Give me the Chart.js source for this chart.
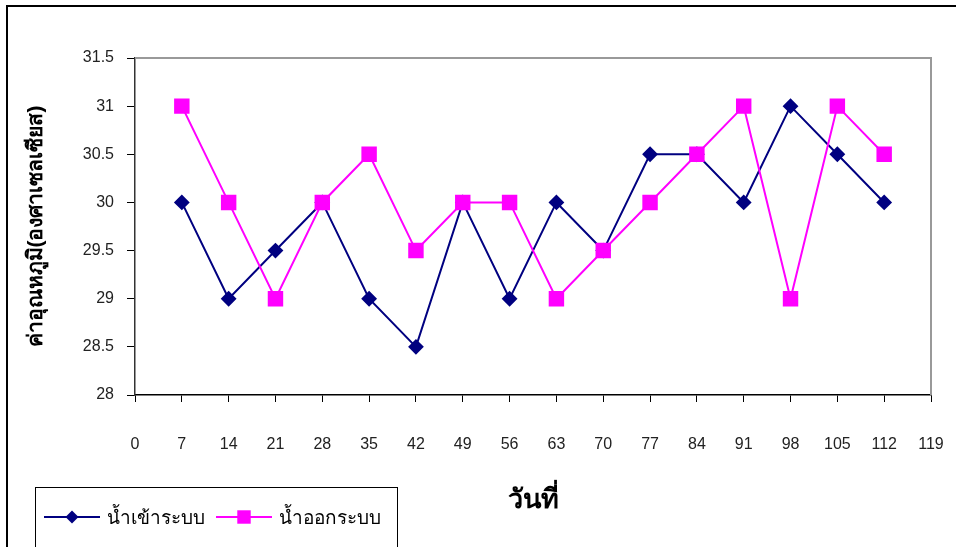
<!DOCTYPE html>
<html>
<head>
<meta charset="utf-8">
<script src="https://cdn.jsdelivr.net/npm/chart.js@4"></script>
<style>
  html, body { margin: 0; padding: 0; background: #fff; }
  #wrap { width: 956px; height: 547px; position: relative; }
</style>
</head>
<body>
<div id="wrap"><canvas id="tempChart"></canvas></div>
<script>
// days of sampling and temperatures (°C)
const days = [7, 14, 21, 28, 35, 42, 49, 56, 63, 70, 77, 84, 91, 98, 105, 112];
const waterIn = [30, 29, 29.5, 30, 29, 28.5, 30, 29, 30, 29.5, 30.5, 30.5, 30, 31, 30.5, 30];
const waterOut = [31, 30, 29, 30, 30.5, 29.5, 30, 30, 29, 29.5, 30, 30.5, 31, 29, 31, 30.5];
const seriesNames = ['น้ำเข้าระบบ', 'น้ำออกระบบ'];
const xTitle = 'วันที่';
const yTitle = 'ค่าอุณหภูมิ(องศาเซลเซียส)';
const xMin = 0, xMax = 119, xStep = 7;
const yMin = 28, yMax = 31.5, yStep = 0.5;

const toPoints = vals => vals.map((v, i) => ({ x: days[i], y: v }));
const tickFont = { family: 'Liberation Sans, Arial, sans-serif', size: 16 };

// outer frame, grey plot frame and the boxed legend
const framePlugin = {
    id: 'framePlugin',
    beforeDatasetsDraw(chart) {
        const { ctx, chartArea: a } = chart;
        ctx.save();
        ctx.strokeStyle = '#999';
        ctx.lineWidth = 2;
        ctx.beginPath();
        ctx.moveTo(a.left, a.top);
        ctx.lineTo(a.right, a.top);
        ctx.lineTo(a.right, a.bottom);
        ctx.stroke();
        ctx.restore();
    },
    afterDraw(chart) {
        const ctx = chart.ctx;
        ctx.save();
        ctx.strokeStyle = '#000';
        ctx.lineWidth = 2;
        ctx.strokeRect(7, 6, 970, 570);

        // legend box
        ctx.lineWidth = 1;
        ctx.strokeRect(35.5, 487.5, 362, 80);
        const ly = 517;
        const items = [
            { x: 44, ds: chart.data.datasets[0] },
            { x: 216, ds: chart.data.datasets[1] }
        ];
        ctx.font = '19px "Liberation Sans", Arial, sans-serif';
        ctx.textBaseline = 'middle';
        items.forEach(it => {
            ctx.strokeStyle = it.ds.borderColor;
            ctx.lineWidth = 2;
            ctx.beginPath();
            ctx.moveTo(it.x, ly);
            ctx.lineTo(it.x + 56, ly);
            ctx.stroke();
            ctx.fillStyle = it.ds.pointBackgroundColor;
            Chart.helpers.drawPoint(ctx, {
                pointStyle: it.ds.pointStyle,
                radius: it.ds.pointRadius,
                rotation: 0,
                borderWidth: 0
            }, it.x + 28, ly);
            ctx.fillStyle = '#000';
            ctx.fillText(it.ds.label, it.x + 63, ly + 2);
        });
        ctx.restore();
    }
};

new Chart(document.getElementById('tempChart'), {
    type: 'line',
    data: {
        datasets: [
            {
                label: seriesNames[0],
                data: toPoints(waterIn),
                borderColor: '#000080',
                backgroundColor: '#000080',
                pointBackgroundColor: '#000080',
                pointBorderColor: '#000080',
                pointStyle: 'rectRot',
                pointRadius: 6.5,
                borderWidth: 2,
                tension: 0,
                order: 2
            },
            {
                label: seriesNames[1],
                data: toPoints(waterOut),
                borderColor: '#FF00FF',
                backgroundColor: '#FF00FF',
                pointBackgroundColor: '#FF00FF',
                pointBorderColor: '#FF00FF',
                pointStyle: 'rect',
                pointRadius: 9.5,
                borderWidth: 2,
                tension: 0,
                order: 1
            }
        ]
    },
    options: {
        responsive: true,
        maintainAspectRatio: false,
        animation: false,
        layout: { padding: { top: 58, right: 25, bottom: 0, left: 0 } },
        plugins: {
            legend: { display: false },
            tooltip: { enabled: false }
        },
        scales: {
            x: {
                type: 'linear',
                min: xMin,
                max: xMax,
                afterFit: scale => {
                    scale.height = 152;
                    // labels sit low, so their side overflow is small
                    scale.paddingLeft = 0;
                    scale.paddingRight = 12;
                },
                border: { color: '#000', width: 1.5 },
                grid: { drawOnChartArea: false, drawTicks: true, tickLength: 7, color: '#000' },
                ticks: { stepSize: xStep, padding: 33, color: '#222', font: tickFont },
                title: {
                    display: true,
                    text: xTitle,
                    color: '#000',
                    font: { family: 'Liberation Sans, Arial, sans-serif', size: 27, weight: 'bold' },
                    padding: { top: 0, bottom: 30 }
                }
            },
            y: {
                min: yMin,
                max: yMax,
                afterFit: scale => { scale.width = 135; },
                border: { color: '#333', width: 1.5 },
                grid: { drawOnChartArea: false, drawTicks: true, tickLength: 8, color: '#000' },
                ticks: {
                    stepSize: yStep,
                    padding: 13,
                    color: '#222',
                    font: tickFont,
                    callback: v => String(+v.toFixed(1))
                },
                title: {
                    display: true,
                    text: yTitle,
                    color: '#000',
                    font: { family: 'Liberation Sans, Arial, sans-serif', size: 21, weight: 'bold' },
                    padding: { top: 24, bottom: 0 }
                }
            }
        }
    },
    plugins: [framePlugin]
});
</script>
</body>
</html>
